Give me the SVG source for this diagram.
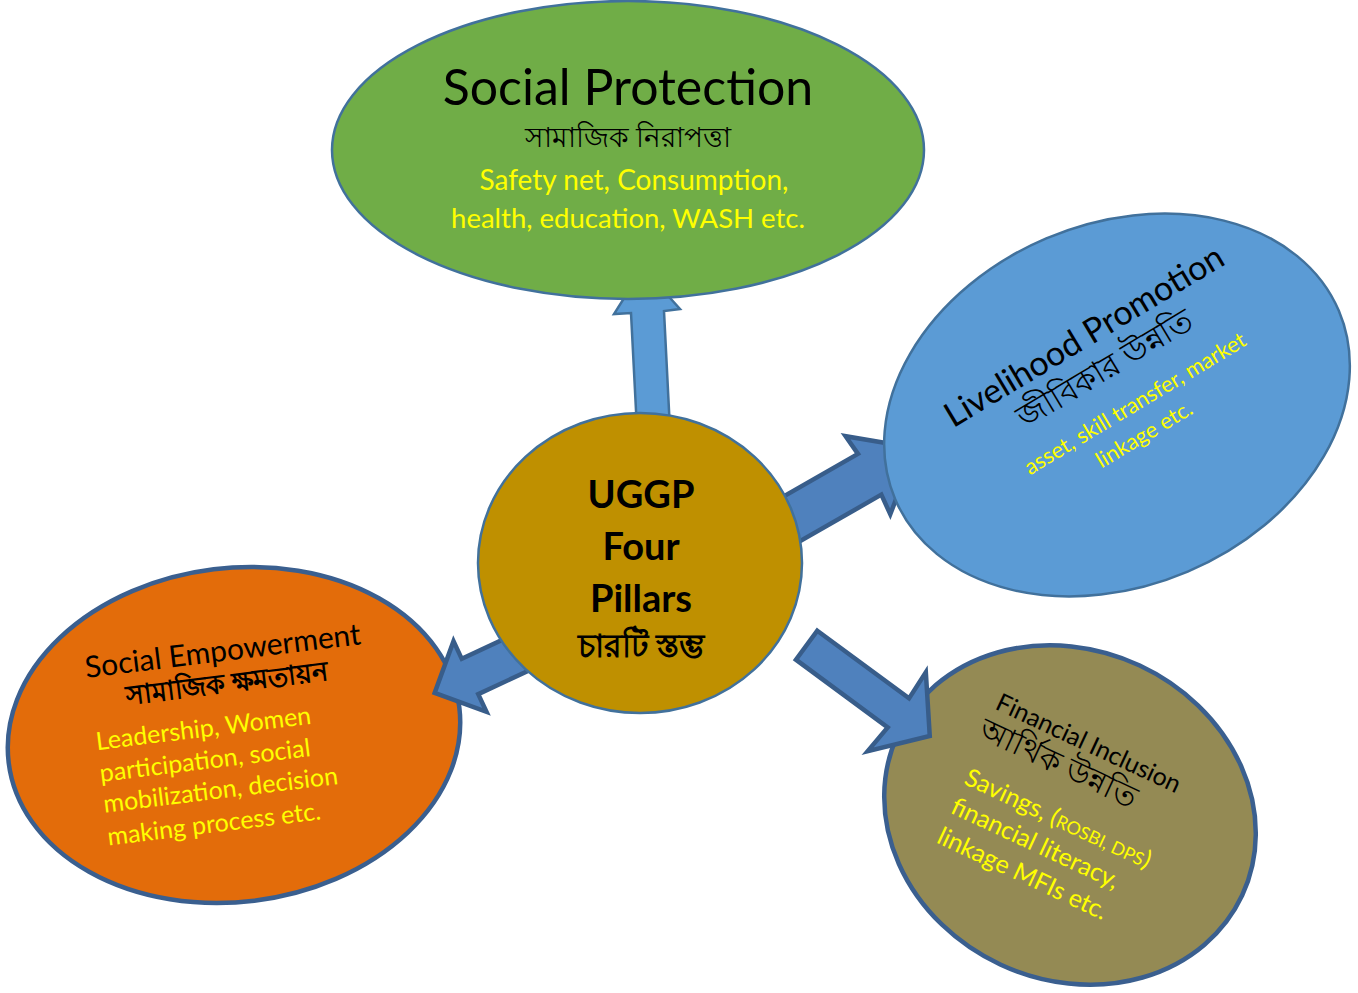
<svg xmlns="http://www.w3.org/2000/svg" width="1358" height="993" viewBox="0 0 1358 993">
<style>
text { font-family: Lato, "Noto Sans", "DejaVu Sans", sans-serif; }
.blk { fill: #000000; }
.yel { fill: #FFFF00; }
.mid { text-anchor: middle; }
.thin { stroke: #41719C; stroke-width: 2.5; }
.thick { stroke: #3A5F8F; stroke-width: 4.5; }
.arrowA { fill: #5B9BD5; stroke: #41719C; stroke-width: 2.5; stroke-linejoin: miter; }
.arrowB { fill: #4F81BD; stroke: #385D8A; stroke-width: 4.5; stroke-linejoin: miter; }
</style>
<rect width="1358" height="993" fill="#FFFFFF"/>

<g id="node-social-empowerment">
  <ellipse cx="234" cy="735" rx="227" ry="167" transform="rotate(-7 234 735)" fill="#E36C0A" class="thick"/>
  <g transform="translate(224,661) rotate(-7)">
    <text class="blk mid" x="0" y="0" font-size="30">Social Empowerment</text>
    <text class="blk mid" x="0" y="32" font-size="27" font-weight="bold">সামাজিক ক্ষমতায়ন</text>
    <text class="yel" x="-137" y="73" font-size="25">Leadership, Women</text>
    <text class="yel" x="-137" y="105" font-size="25">participation, social</text>
    <text class="yel" x="-137" y="136" font-size="25">mobilization, decision</text>
    <text class="yel" x="-137" y="169" font-size="25">making process etc.</text>
  </g>
</g>

<g id="node-financial-inclusion">
  <ellipse cx="1070" cy="815" rx="190" ry="165" transform="rotate(25 1070 815)" fill="#948A54" class="thick"/>
  <g transform="translate(1085,751) rotate(25)">
    <text class="blk mid" x="0" y="0" font-size="25">Financial Inclusion</text>
    <text class="blk mid" x="-19" y="33" font-size="31">আর্থিক উন্নতি</text>
    <text class="yel" x="-97" y="81" font-size="25">Savings, (<tspan font-size="18">ROSBI, DPS</tspan>)</text>
    <text class="yel" x="-97" y="113" font-size="25">financial literacy,</text>
    <text class="yel" x="-97" y="146" font-size="25">linkage MFIs etc.</text>
  </g>
</g>

<g id="connectors">
  <polygon class="arrowA" points="637,430 631,313 614,314 643,268 680,309 664,311 670,430"/>
  <polygon class="arrowB" transform="translate(798.5,515) rotate(-29.8)" points="-40,-23.5 82,-23.5 80,-45 135,0 80,45 82,23.5 -40,23.5"/>
  <polygon class="arrowB" transform="translate(805,644) rotate(36.4)" points="2,-18 116,-18 114,-49 155,0 114,49 116,18 2,18"/>
  <polygon class="arrowB" transform="translate(470,676.5) rotate(155)" points="-75,-19.5 0,-19.5 0,-39 39,0 0,39 0,19.5 -75,19.5"/>
</g>

<g id="node-center">
  <ellipse cx="640" cy="563" rx="162" ry="150" fill="#BF9000" class="thin"/>
  <text class="blk mid" x="641" y="508" font-size="38" font-weight="bold">UGGP</text>
  <text class="blk mid" x="641" y="560" font-size="38" font-weight="bold">Four</text>
  <text class="blk mid" x="641" y="612" font-size="38" font-weight="bold">Pillars</text>
  <text class="blk mid" x="641" y="657" font-size="32" font-weight="bold">চারটি স্তম্ভ</text>
</g>

<g id="node-social-protection">
  <ellipse cx="628" cy="150" rx="296" ry="149" fill="#70AD47" class="thin"/>
  <text class="blk mid" x="628" y="105" font-size="50">Social Protection</text>
  <text class="blk mid" x="628" y="147" font-size="28">সামাজিক নিরাপত্তা</text>
  <text class="yel mid" x="634" y="190" font-size="28">Safety net, Consumption,</text>
  <text class="yel mid" x="628" y="228" font-size="27.5">health, education, WASH etc.</text>
</g>

<g id="node-livelihood-promotion">
  <ellipse cx="1117" cy="405" rx="241" ry="181" transform="rotate(-23 1117 405)" fill="#5B9BD5" class="thin"/>
  <g transform="translate(1090,346) rotate(-31)">
    <text class="blk mid" x="0" y="0" font-size="34">Livelihood Promotion</text>
    <text class="blk mid" x="1" y="38" font-size="32">জীবিকার উন্নতি</text>
    <text class="yel mid" x="9" y="80" font-size="22">asset, skill transfer, market</text>
    <text class="yel mid" x="1" y="111" font-size="22">linkage etc.</text>
  </g>
</g>
</svg>
